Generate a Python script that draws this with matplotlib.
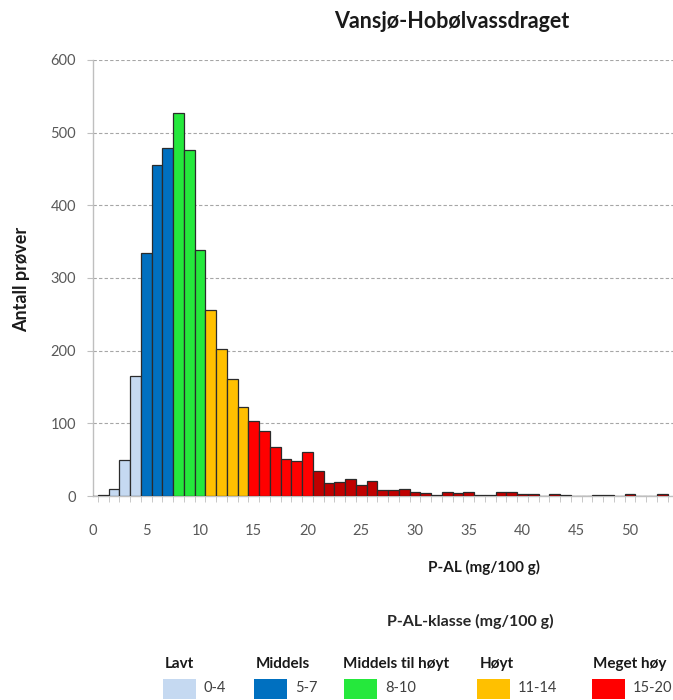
import matplotlib
matplotlib.use("Agg")
import matplotlib.pyplot as plt
from matplotlib.patches import Rectangle
import numpy as np

plt.rcParams['font.family'] = ['Lato', 'DejaVu Sans']

# ---- data ----
p_al = list(range(0, 54))
antall = [0, 2, 10, 50, 165, 335, 455, 479, 527, 476, 339, 256, 202, 161, 123,
          103, 89, 68, 51, 48, 61, 35, 18, 19, 23, 15, 21, 8, 8, 10, 6, 4, 2, 6,
          4, 5, 2, 2, 5, 5, 3, 3, 0, 3, 1, 0, 0, 1, 1, 0, 3, 0, 0, 3]

class_names = ["Lavt", "Middels", "Middels til høyt", "Høyt", "Meget høy"]
class_ranges = ["0-4", "5-7", "8-10", "11-14", "15-20"]
class_upper = [4, 7, 10, 14, 20]
class_colors = ["#C5D9F1", "#0070C0", "#25E83C", "#FFC000", "#FF0000"]
above_color = "#C00000"   # > 20

title = "Vansjø-Hobølvassdraget"
ylabel = "Antall prøver"
xlabel = "P-AL (mg/100 g)"
legend_title = "P-AL-klasse (mg/100 g)"
xtick_vals = list(range(0, 51, 5))
ytick_vals = list(range(0, 601, 100))

def color_for(v):
    for up, c in zip(class_upper, class_colors):
        if v <= up:
            return c
    return above_color

bar_colors = [color_for(v) for v in p_al]

fig = plt.figure(figsize=(6.73, 7.0), dpi=100)
ax = fig.add_axes([92.5 / 673, 204 / 700, 580.5 / 673, 436 / 700])

ax.bar(p_al, antall, width=1.0, color=bar_colors, edgecolor="#2b2b2b",
       linewidth=0.9, zorder=3)

ax.set_xlim(0, 54.0)
ax.set_ylim(0, 600)
ax.set_yticks(ytick_vals)
ax.set_xticks(xtick_vals)
ax.set_xticks(np.arange(0.5, 54, 1.0), minor=True)

ax.yaxis.grid(True, linestyle=(0, (3, 2)), color="#A6A6A6", linewidth=0.8, zorder=0)
ax.set_axisbelow(True)

for s in ["top", "right"]:
    ax.spines[s].set_visible(False)
ax.spines["left"].set_color("#BFBFBF")
ax.spines["bottom"].set_color("#BFBFBF")
ax.spines["left"].set_linewidth(1.0)
ax.spines["bottom"].set_linewidth(1.0)

ax.tick_params(axis="x", which="major", length=0, pad=20, labelsize=10.5,
               labelcolor="#595959")
ax.tick_params(axis="x", which="minor", length=4, color="#BFBFBF", direction="out")
ax.tick_params(axis="y", which="major", length=4, color="#BFBFBF", pad=8,
               labelsize=10.5, labelcolor="#595959")

fig.text(452 / 673, 1 - 22 / 700, title, ha="center", va="center",
         fontsize=15.5, fontweight="bold", color="#1a1a1a")
fig.text(22 / 673, 1 - 279 / 700, ylabel, ha="center", va="center",
         rotation=90, fontsize=13, fontweight="bold", color="#1a1a1a")
fig.text(484 / 673, 1 - 567 / 700, xlabel, ha="center", va="center",
         fontsize=11, fontweight="bold", color="#1a1a1a")
fig.text(470 / 673, 1 - 621 / 700, legend_title, ha="center", va="center",
         fontsize=11.5, fontweight="bold", color="#262626")

# legend (manual, as in the original image)
head_x = [165, 256, 343, 480, 593]
patch_x = [163, 254, 344, 477, 592]
for name, rng, col, hx, px in zip(class_names, class_ranges, class_colors, head_x, patch_x):
    fig.text(hx / 673, 1 - 664 / 700, name, ha="left", va="center",
             fontsize=11, fontweight="bold", color="#1a1a1a")
    fig.patches.append(Rectangle((px / 673, 1 - 699 / 700), 33 / 673, 20 / 700,
                                 transform=fig.transFigure, facecolor=col,
                                 edgecolor="none"))
    fig.text((px + 41) / 673, 1 - 688 / 700, rng, ha="left", va="center",
             fontsize=10.5, color="#404040")

fig.savefig("out.png", dpi=100, facecolor="white")
